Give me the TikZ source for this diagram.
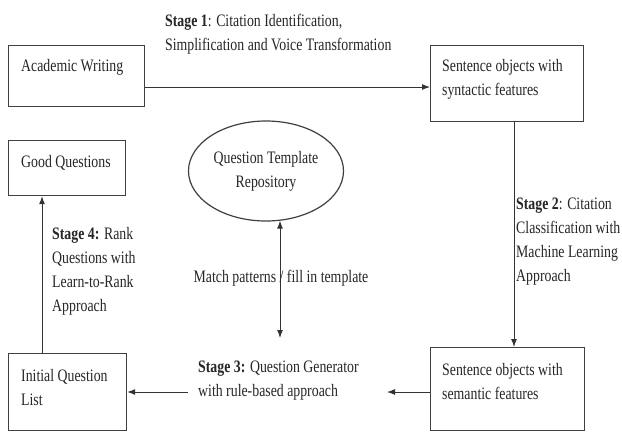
\documentclass[tikz,border=0pt]{standalone}
\usepackage{fontspec}
\setmainfont{Liberation Serif}[FakeStretch=0.79]
\usetikzlibrary{arrows.meta,shapes.geometric,calc}

\begin{document}
\begin{tikzpicture}[x=1pt,y=-1pt,
  box/.style={draw=black!75, line width=1.2pt, anchor=north west, inner sep=0pt},
  txt/.style={inner sep=0pt, font=\fontsize{17.5}{24}\selectfont, text=black!85},
  lefttxt/.style={txt, anchor=west, align=left},
  conn/.style={draw=black!80, line width=1pt},
  arr/.style={conn, -{Latex[length=8pt,width=6pt]}},
  darr/.style={conn, {Latex[length=8pt,width=6pt]}-{Latex[length=8pt,width=6pt]}}
]
\useasboundingbox (0,0) rectangle (622,432);
\fill[white] (0,0) rectangle (622,432);

% process boxes
\node[box, minimum width=136, minimum height=61] (aw) at (8,45) {};
\node[box, minimum width=153, minimum height=76] (syn) at (430,45) {};
\node[box, minimum width=117, minimum height=55] (gq) at (8,140) {};
\node[box, minimum width=118, minimum height=77] (iq) at (8,353) {};
\node[box, minimum width=154, minimum height=83] (sem) at (430,347) {};

% box texts
\node[lefttxt] (awt) at (21,67) {Academic Writing};
\node[lefttxt] (synt) at (442,79.5) {Sentence objects with\\syntactic features};
\node[lefttxt] (gqt) at (21,163) {Good Questions};
\node[lefttxt] (iqt) at (21,387.5) {Initial Question\\List};
\node[lefttxt] (semt) at (442,381.5) {Sentence objects with\\semantic features};

% template repository
\node[ellipse, draw=black!75, line width=1.2pt, inner sep=0pt,
      minimum width=155, minimum height=100, txt, align=center] (qt) at (266,171)
      {Question Template\\Repository};

% stage labels
\node[lefttxt] (s1) at (165,34.5) {\textbf{Stage 1}: Citation Identification,\\Simplification and Voice Transformation};
\node[lefttxt] (s2) at (516,241.5) {\textbf{Stage 2}: Citation\\Classification with\\Machine Learning\\Approach};
\node[lefttxt] (s3) at (198,380.5) {\textbf{Stage 3:} Question Generator\\with rule-based approach};
\node[lefttxt] (s4) at (52,271) {\textbf{Stage 4:} Rank\\Questions with\\Learn-to-Rank\\Approach};

% connector guides
\coordinate (y1) at (0,87);
\coordinate (x2) at (514,0);
\coordinate (x4) at (42,0);
\coordinate (s3in) at (387,392);
\coordinate (s3out) at (188,392);
\coordinate (mt) at (280,338);

% connectors
\draw[arr] (aw.east |- y1) -- (syn.west |- y1);
\draw[arr] (syn.south -| x2) -- (sem.north -| x2);
\draw[arr] (sem.west |- s3in) -- (s3in);
\draw[arr] (s3out) -- (iq.east |- s3out);
\draw[arr] (iq.north -| x4) -- (gq.south -| x4);
\draw[darr] (mt) -- ($(qt.south -| mt)+(0,-1)$);

\node[txt] (mtl) at (281,278) {Match patterns / fill in template};
\end{tikzpicture}
\end{document}
